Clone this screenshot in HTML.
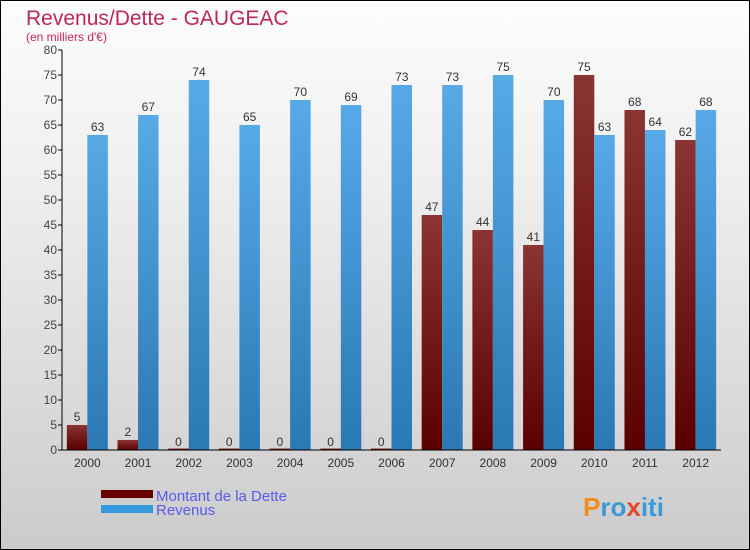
<!DOCTYPE html>
<html><head><meta charset="utf-8"><style>
body{margin:0}
#c{position:relative;width:748px;height:548px;border:1px solid #000;background:linear-gradient(#fdfdfd,#f0f0f0 30%,#d6d6d6 80%,#cbcbcb);font-family:"Liberation Sans",sans-serif;overflow:hidden}
</style></head><body>
<div id="c">
<svg width="748" height="548">
<defs>
<linearGradient id="gd" x1="0" y1="0" x2="0" y2="1"><stop offset="0" stop-color="#8a3434"/><stop offset="1" stop-color="#5a0000"/></linearGradient>
<linearGradient id="gr" x1="0" y1="0" x2="0" y2="1"><stop offset="0" stop-color="#57aae6"/><stop offset="1" stop-color="#2a78b4"/></linearGradient>
</defs>
<text x="25" y="24" font-size="21" fill="#c0265a">Revenus/Dette - GAUGEAC</text>
<text x="25" y="40" font-size="12" fill="#c0265a">(en milliers d'€)</text>
<g id="plot"></g>
<g>
<rect x="100" y="489" width="52" height="8" fill="#6a0000"/>
<text x="155" y="500" font-size="15" fill="#5a5af0">Montant de la Dette</text>
<rect x="100" y="504" width="52" height="8" fill="#3399dd"/>
<text x="155" y="514" font-size="15" fill="#5a5af0">Revenus</text>
</g>
<text x="582" y="515" font-size="26" font-weight="bold" fill="#3a9ad8"><tspan fill="#f28c1e">P</tspan>ro<tspan fill="#e04a2a">x</tspan>iti</text>
</svg>
</div>
<script>
const years=["2000","2001","2002","2003","2004","2005","2006","2007","2008","2009","2010","2011","2012"];
const dette=[5,2,0,0,0,0,0,47,44,41,75,68,62];
const revenus=[63,67,74,65,70,69,73,73,75,70,63,64,68];
const yTicks=[0,5,10,15,20,25,30,35,40,45,50,55,60,65,70,75,80];
const NS="http://www.w3.org/2000/svg";
const g=document.getElementById('plot');
const x0=61,x1=720,y0=449,yMax=80,ph=400;
const gw=(x1-x0)/years.length;
const ys=v=>y0-v/yMax*ph;
function mk(t,a,p){const e=document.createElementNS(NS,t);for(const k in a)e.setAttribute(k,a[k]);(p||g).appendChild(e);return e;}
yTicks.forEach(v=>{
 const t=mk('line',{x1:x0-4,x2:x0,y1:ys(v),y2:ys(v),stroke:'#000'});
 
 
 const l=mk('text',{x:x0-5,y:ys(v)+4,'font-size':12,'text-anchor':'end',fill:'#444'});
 l.textContent=v;
 
 
});
years.forEach((y,i)=>{
 const cx=x0+gw*(i+0.5);
 const bw=20.5;
 const hd=Math.max(dette[i]/yMax*ph,1.5);
 const b1=mk('rect',{x:cx-bw,y:y0-hd,width:bw,height:hd,fill:'url(#gd)'});
 
 
 const hr=revenus[i]/yMax*ph;
 const b2=mk('rect',{x:cx,y:y0-hr,width:bw,height:hr,fill:'url(#gr)'});
 
 
 const t1=mk('text',{x:cx-bw/2,y:ys(dette[i])-4,'font-size':12,'text-anchor':'middle',fill:'#333'});
 t1.textContent=dette[i];
 
 
 const t2=mk('text',{x:cx+bw/2,y:ys(revenus[i])-4,'font-size':12,'text-anchor':'middle',fill:'#333'});
 t2.textContent=revenus[i];
 
 
 const xl=mk('text',{x:cx,y:466,'font-size':12,'text-anchor':'middle',fill:'#333'});
 xl.textContent=y;
 
 
});
const ax=mk('line',{x1:x0,x2:x0,y1:ys(80),y2:y0,stroke:'#000'});


const bx=mk('line',{x1:x0,x2:x1,y1:y0,y2:y0,stroke:'#000'});


</script>
</body></html>
